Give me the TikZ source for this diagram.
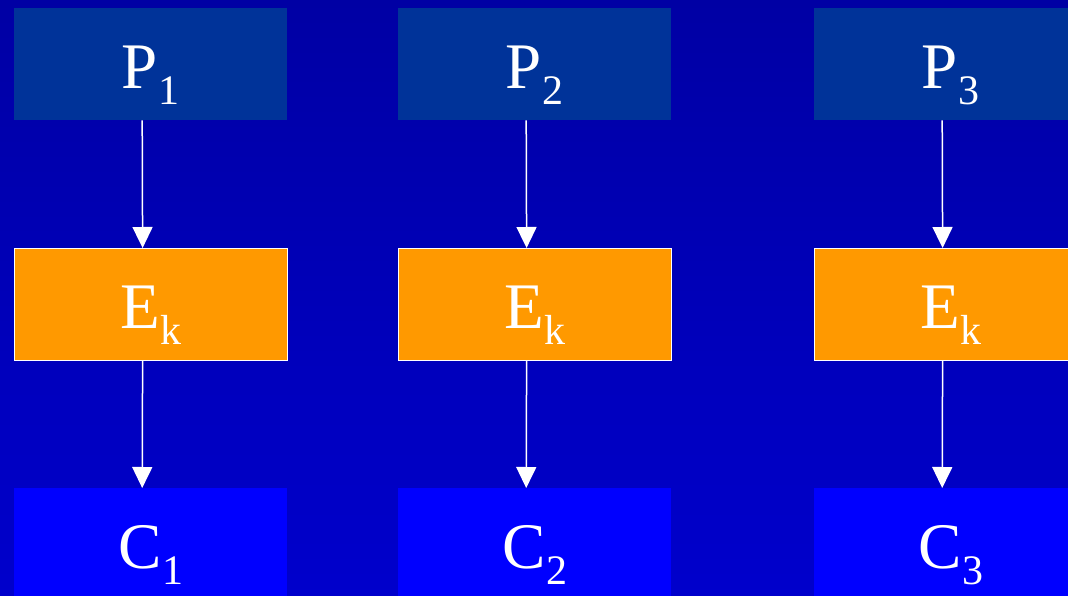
\documentclass[tikz,border=0pt]{standalone}
\usepackage{fontspec}
\newfontfamily\blockfont{LiberationSerif-Regular.ttf}
\usetikzlibrary{arrows.meta}

\definecolor{bgtop}{RGB}{0,0,164}
\definecolor{bgbottom}{RGB}{0,0,204}
\definecolor{plainblue}{RGB}{0,51,153}
\definecolor{encorange}{RGB}{255,153,0}
\definecolor{cipherblue}{RGB}{0,0,255}

% letter with a lowered index
\newcommand{\blocktext}[2]{#1\kern1pt\raisebox{-16pt}{\fontsize{42}{42}\selectfont #2}}

\begin{document}
\begin{tikzpicture}[x=1pt, y=-1pt,
    blockbox/.style={anchor=north west, minimum width=273pt, minimum height=112pt,
        inner sep=0pt, text height=48pt, text depth=0pt, text=white,
        font=\blockfont\fontsize{65}{78}\selectfont},
    plainbox/.style={blockbox, fill=plainblue},
    encbox/.style={blockbox, fill=encorange, draw=white, line width=1.2pt},
    cipherbox/.style={blockbox, fill=cipherblue},
    flow/.style={draw=white, line width=1.5pt, -{Triangle[width=20pt, length=21pt]}}]

    \clip (0,0) rectangle (1068,596);
    \shade[top color=bgtop, bottom color=bgbottom] (0,0) rectangle (1068,596);

    \foreach \col/\left in {1/14, 2/398, 3/814} {
        \node[plainbox] (P\col) at (\left,8) {\blocktext{P}{\col}};
        \node[encbox] (E\col) at (\left,248) {\blocktext{E}{k}};
        \node[cipherbox] (C\col) at (\left,488) {\blocktext{C}{\col}};

        \draw[flow] ([xshift=-8.5pt]P\col.south) -- ([xshift=-8.5pt]E\col.north);
        \draw[flow] ([xshift=-8.5pt]E\col.south) -- ([xshift=-8.5pt]C\col.north);
    }
\end{tikzpicture}
\end{document}
